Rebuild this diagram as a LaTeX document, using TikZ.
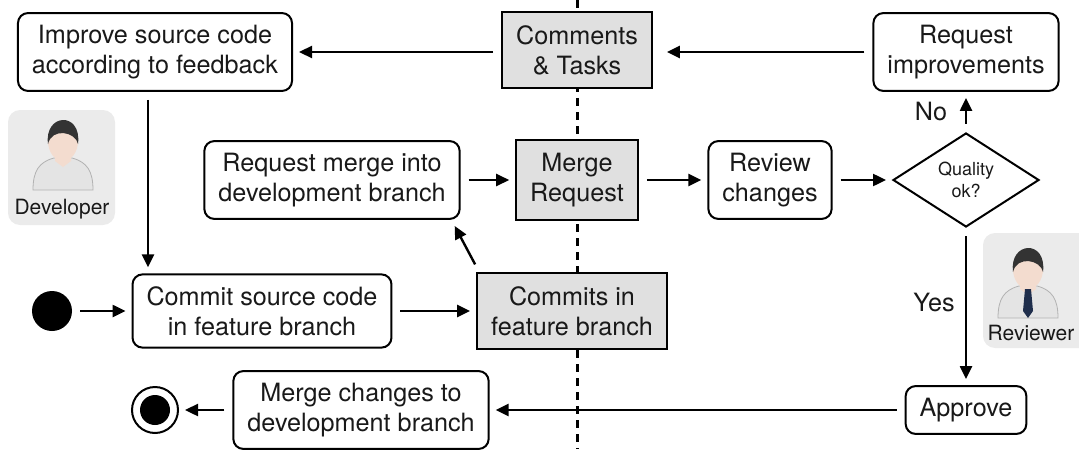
\documentclass[tikz,border=0pt]{standalone}
\usepackage{fontspec}
\setmainfont{TeX Gyre Heros}
\usepackage{xcolor}
\usetikzlibrary{positioning,shapes.geometric,arrows.meta}

\definecolor{skin}{HTML}{F3DCCF}
\definecolor{hairdark}{HTML}{333333}
\definecolor{shirtgrey}{HTML}{E4E4E4}
\definecolor{tienavy}{HTML}{1F2E4C}

\tikzset{
  every node/.style={font=\fontsize{12.6}{15}\selectfont, text=black!90},
  action/.style={draw, rounded corners=5pt, line width=1pt, align=center, inner xsep=7pt, inner ysep=6pt},
  artifact/.style={draw, fill=black!12, line width=1pt, align=center, inner xsep=7pt, inner ysep=6.5pt},
  decision/.style={diamond, draw, line width=1pt, aspect=1.55, minimum width=73pt, minimum height=47pt,
    inner sep=0pt, align=center, font=\fontsize{9}{11}\selectfont},
  flow/.style={-{Triangle[length=6.5pt,width=6pt]}, line width=1.2pt, shorten <=4pt, shorten >=3pt},
  lane/.style={line width=1.5pt, dash pattern=on 4pt off 3pt},
  avatar/.style={fill=black!8, rounded corners=6pt},
  person/.pic={
    % shirt, neck, face, hair
    \fill[shirtgrey, draw=black!30, line width=0.4pt] (-30,50) .. controls (-30,31) and (-24,22) .. (-9,18)
      -- (9,18) .. controls (24,22) and (30,31) .. (30,50) -- cycle;
    \fill[skin] (-8,8) -- (8,8) -- (8,21) -- (0,27) -- (-8,21) -- cycle;
    \fill[skin] (0,1) ellipse (7.5pt and 10pt);
    \fill[hairdark] (-15,4) .. controls (-19,-27) and (19,-29) .. (15,4)
      .. controls (13,-8) and (-11,-13) .. (-15,4) -- cycle;
  },
  reviewer/.pic={
    \pic {person};
    \fill[tienavy] (-3,21) -- (3,21) -- (5,43) -- (0,50) -- (-5,43) -- cycle;
  },
}

\begin{document}
\begin{tikzpicture}[x=0.5pt,y=-0.5pt]
  \useasboundingbox (0,0) rectangle (1079,449);

  % dotted divider between the two roles
  \coordinate (laneTop) at (577,0);
  \coordinate (laneBot) at (577,449);
  \draw[lane] (laneTop) -- (laneBot);

  % role icons
  \fill[avatar] (8,110) rectangle (115,225);
  \pic at (63,140) {person};
  \node (devlabel) [font=\fontsize{10.5}{12}\selectfont] at (62,209) {Developer};
  \fill[avatar] (983,233) rectangle (1095,348);
  \pic at (1028,268) {reviewer};
  \node (revlabel) [font=\fontsize{10.5}{12}\selectfont] at (1031,333) {Reviewer};

  % top row
  \node (improve) [action] at (155,52) {Improve source code\\according to feedback};
  \node (tasks) [artifact] at (577,50) {Comments\\\& Tasks};
  \node (reqimp) [action] at (966,52) {Request\\improvements};

  % merge request row
  \node (reqmerge) [action] at (332,180) {Request merge into\\development branch};
  \node (mr) [artifact, minimum width=57pt] at (577,180) {Merge\\Request};
  \node (review) [action] at (770,180) {Review\\changes};
  \node (quality) [decision] at (966,180) {Quality\\ok?};

  % commit row
  \node (start) [circle, fill=black, minimum size=20pt, inner sep=0pt] at (52,311) {};
  \node (commit) [action] at (262,311) {Commit source code\\in feature branch};
  \node (commits) [artifact] at (572,311) {Commits in\\feature branch};

  % merge row
  \node (stop) [circle, draw, line width=1pt, minimum size=23pt, inner sep=0pt] at (155,410) {};
  \node (stopdot) [circle, fill=black, minimum size=15pt, inner sep=0pt] at (stop) {};
  \node (merge) [action] at (361,410) {Merge changes to\\development branch};
  \node (approve) [action] at (966,410) {Approve};

  \node (no) at (931,112) {No};
  \node (yes) at (934,302) {Yes};

  % flows
  \draw[flow] (start) -- (commit);
  \draw[flow] (commit) -- (commits);
  \draw[flow, shorten <=0pt, shorten >=0pt] ([xshift=-0.5pt,yshift=4pt]commits.north west)
    -- ([xshift=-3pt,yshift=-3pt]reqmerge.south east);
  \draw[flow] (reqmerge) -- (mr);
  \draw[flow] (mr) -- (review);
  \draw[flow] (review) -- (quality);
  \draw[flow] (quality) -- (reqimp);
  \draw[flow, shorten >=7pt] (reqimp.west) -- (reqimp.west -| tasks.east);
  \draw[flow] (tasks.west |- improve.east) -- (improve.east);
  \draw[flow] ([xshift=-3.5pt]improve.south) -- ([xshift=-3.5pt]improve.south |- commit.north);
  \draw[flow] (quality) -- (approve);
  \draw[flow] (approve) -- (merge);
  \draw[flow] (merge) -- (stop);
\end{tikzpicture}
\end{document}
